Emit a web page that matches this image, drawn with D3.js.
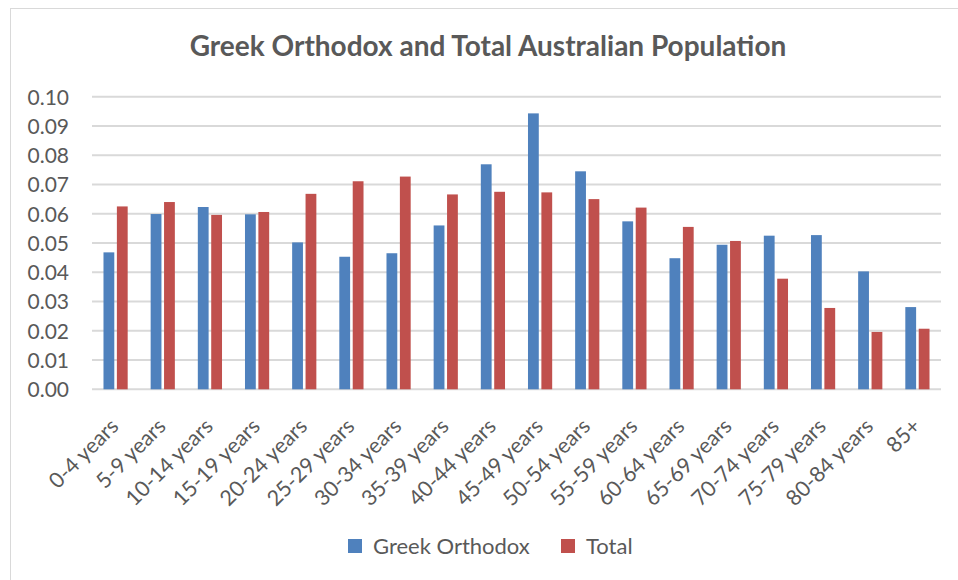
<!DOCTYPE html>
<html>
<head>
<meta charset="utf-8">
<script src="https://cdn.jsdelivr.net/npm/d3@7"></script>
<style>
  html, body { margin: 0; padding: 0; background: #fff; }
  svg { display: block; }
  text { font-family: Lato, "Open Sans", sans-serif; fill: #595959; }
</style>
</head>
<body>
<svg id="chart" width="958" height="580"></svg>
<script>
// Age groups along the x axis
const categories = [
  "0-4 years", "5-9 years", "10-14 years", "15-19 years", "20-24 years",
  "25-29 years", "30-34 years", "35-39 years", "40-44 years", "45-49 years",
  "50-54 years", "55-59 years", "60-64 years", "65-69 years", "70-74 years",
  "75-79 years", "80-84 years", "85+"
];

// Share of each population in every age group
const greekOrthodox = [
  0.0468, 0.0599, 0.0623, 0.0598, 0.0502, 0.0453, 0.0465, 0.0560, 0.0769,
  0.0943, 0.0745, 0.0574, 0.0448, 0.0494, 0.0525, 0.0527, 0.0403, 0.0281
];
const total = [
  0.0625, 0.0640, 0.0596, 0.0606, 0.0668, 0.0711, 0.0727, 0.0666, 0.0675,
  0.0673, 0.0650, 0.0621, 0.0555, 0.0507, 0.0378, 0.0278, 0.0196, 0.0207
];

const seriesNames = ["Greek Orthodox", "Total"];
const seriesColors = ["#4F81BD", "#C0504D"];
const yTicks = [0, 0.01, 0.02, 0.03, 0.04, 0.05, 0.06, 0.07, 0.08, 0.09, 0.10];

const svg = d3.select("#chart");
const W = 958, H = 580;

// Chart frame
svg.append("rect")
  .attr("x", 10.5).attr("y", 8.5)
  .attr("width", W).attr("height", H)
  .attr("fill", "#fff")
  .attr("stroke", "#d9d9d9").attr("stroke-width", 1);

const plot = { left: 92, right: 941, top: 96.7, bottom: 389.3 };

const x0 = d3.scaleBand().domain(categories).range([plot.left, plot.right]).padding(0);
const x1 = d3.scaleBand().domain(seriesNames).range([-12.1, 12.1]).paddingInner(0.194).paddingOuter(0);
const y = d3.scaleLinear().domain([0, 0.1]).range([plot.bottom, plot.top]);

// Title
svg.append("text")
  .attr("x", 488).attr("y", 56)
  .attr("text-anchor", "middle")
  .style("font-size", "28px").style("font-weight", "bold")
  .text("Greek Orthodox and Total Australian Population");

// Horizontal gridlines
svg.append("g")
  .selectAll("line")
  .data(yTicks)
  .join("line")
  .attr("x1", plot.left).attr("x2", plot.right)
  .attr("y1", d => y(d)).attr("y2", d => y(d))
  .attr("stroke", "#d9d9d9").attr("stroke-width", 2);

// Y axis labels
const yAxis = d3.axisLeft(y).tickValues(yTicks).tickFormat(d3.format(".2f")).tickSize(0).tickPadding(0);
const yg = svg.append("g").attr("transform", `translate(${plot.left - 23},0)`).call(yAxis);
yg.select(".domain").remove();
yg.selectAll("text")
  .style("font-size", "21px")
  .style("font-family", "Lato, 'Open Sans', sans-serif")
  .attr("fill", "#595959")
  .attr("dy", "0.35em");

// Bars
const rows = categories.map((c, i) => ({ cat: c, values: [greekOrthodox[i], total[i]] }));
const groups = svg.append("g")
  .selectAll("g")
  .data(rows)
  .join("g")
  .attr("transform", d => `translate(${x0(d.cat) + x0.bandwidth() / 2},0)`);

groups.selectAll("rect")
  .data(d => d.values.map((v, k) => ({ name: seriesNames[k], value: v, color: seriesColors[k] })))
  .join("rect")
  .attr("x", d => x1(d.name))
  .attr("width", x1.bandwidth())
  .attr("y", d => y(d.value))
  .attr("height", d => y(0) - y(d.value))
  .attr("fill", d => d.color);

// X axis labels, rotated
const xAxis = d3.axisBottom(x0).tickSize(0).tickPadding(0);
const xg = svg.append("g").attr("transform", `translate(0,${plot.bottom})`).call(xAxis);
xg.select(".domain").remove();
xg.selectAll(".tick text")
  .style("font-size", "21.5px")
  .style("font-family", "Lato, 'Open Sans', sans-serif")
  .attr("fill", "#595959")
  .attr("text-anchor", "end")
  .attr("dy", "0.35em")
  .attr("transform", "translate(-1,33) rotate(-45)");

// Legend
const legend = svg.append("g").attr("transform", "translate(348,539)");
const legendItems = [
  { name: seriesNames[0], color: seriesColors[0], x: 0 },
  { name: seriesNames[1], color: seriesColors[1], x: 213 }
];
const li = legend.selectAll("g").data(legendItems).join("g")
  .attr("transform", d => `translate(${d.x},0)`);
li.append("rect").attr("width", 14).attr("height", 14).attr("fill", d => d.color);
li.append("text")
  .attr("x", 25).attr("y", 7).attr("dy", "0.35em")
  .style("font-size", "22px")
  .text(d => d.name);
</script>
</body>
</html>
